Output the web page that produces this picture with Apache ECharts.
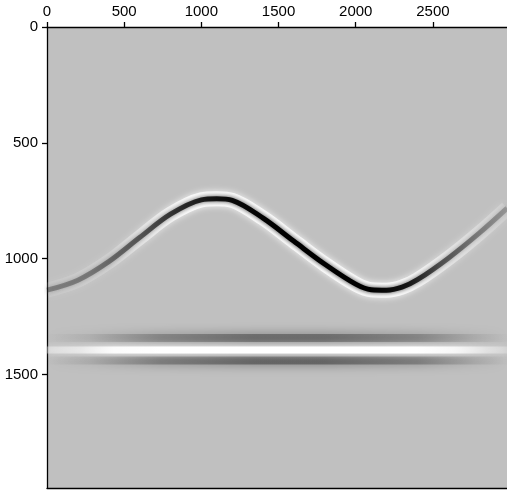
<!DOCTYPE html>
<html>
<head>
<meta charset="utf-8">
<script src="https://cdn.jsdelivr.net/npm/echarts@6/dist/echarts.min.js"></script>
<style>
  html, body { margin: 0; padding: 0; background: #fff; }
  #main { width: 507px; height: 490px; }
</style>
</head>
<body>
<div id="main"></div>
<script>
// axis ticks
var xTicks = [0, 500, 1000, 1500, 2000, 2500];
var yTicks = [0, 500, 1000, 1500];

// curved reflector (offset, depth)
var curveX     = [0,    200,  400,  600, 800, 1000, 1100, 1200, 1400, 1600, 1800, 2000, 2100, 2200, 2300, 2400, 2600, 2800, 2981];
var curveDepth = [1136, 1093, 1013, 909, 808, 746,  741,  748,  825,  925,  1024, 1110, 1134, 1136, 1123, 1091, 998,  890,  782];

// flat event: white centre with dark side lobes
var flatX = [0, 2980];
var flatCentre = 1394;
var flatUpper = 1343;
var flatLower = 1440;

var myChart = echarts.init(document.getElementById('main'));

function pairs(xs, ys) {
  return xs.map(function (x, i) { return [x, ys[i]]; });
}
function flat(d) {
  return flatX.map(function (x) { return [x, d]; });
}
// horizontal alpha ramp for a colour
function ramp(rgb, stops) {
  return new echarts.graphic.LinearGradient(0, 0, 1, 0, stops.map(function (s) {
    return { offset: s[0], color: 'rgba(' + rgb + ',' + s[1] + ')' };
  }));
}
function plain(v) { return String(v); }

var curveData = pairs(curveX, curveDepth);

var lineBase = {
  type: 'line',
  xAxisIndex: 0,
  yAxisIndex: 0,
  showSymbol: false,
  silent: true,
  animation: false
};

var option = {
  animation: false,
  grid: {
    left: 47, top: 27, right: 0, bottom: 2,
    show: true, backgroundColor: '#c0c0c0', borderWidth: 0
  },
  xAxis: [
    {
      type: 'value', position: 'top', min: 0, max: 2980,
      axisLine: { lineStyle: { color: '#000', width: 1.3 } },
      axisTick: { show: true, length: 5, customValues: xTicks, lineStyle: { color: '#000', width: 1.3 } },
      axisLabel: { customValues: xTicks, formatter: plain, color: '#000', fontSize: 15, fontFamily: 'Liberation Sans', margin: 8 },
      splitLine: { show: false }
    },
    {
      type: 'value', position: 'bottom', min: 0, max: 2980,
      axisLine: { lineStyle: { color: '#000', width: 1.3 } },
      axisTick: { show: false }, axisLabel: { show: false }, splitLine: { show: false }
    }
  ],
  yAxis: {
    type: 'value', inverse: true, min: 0, max: 1990,
    axisLine: { lineStyle: { color: '#000', width: 1.3 } },
    axisTick: { show: true, length: 5, customValues: yTicks, lineStyle: { color: '#000', width: 1.3 } },
    axisLabel: { customValues: yTicks, formatter: plain, color: '#000', fontSize: 15, fontFamily: 'Liberation Sans', margin: 9 },
    splitLine: { show: false }
  },
  series: [
    // flat event side lobes
    Object.assign({}, lineBase, {
      data: flat(flatUpper),
      lineStyle: {
        width: 8, shadowBlur: 11, shadowColor: 'rgba(0,0,0,0.8)',
        color: ramp('50,50,50', [[0, 0], [0.1, 0.08], [0.25, 0.3], [0.45, 0.45], [0.6, 0.45], [0.8, 0.3], [0.92, 0.1], [1, 0]])
      }
    }),
    Object.assign({}, lineBase, {
      data: flat(flatLower),
      lineStyle: {
        width: 8, shadowBlur: 11, shadowColor: 'rgba(0,0,0,0.8)',
        color: ramp('50,50,50', [[0, 0], [0.1, 0.1], [0.25, 0.35], [0.45, 0.5], [0.6, 0.5], [0.8, 0.35], [0.92, 0.12], [1, 0]])
      }
    }),
    // flat event white centre
    Object.assign({}, lineBase, {
      data: flat(flatCentre),
      lineStyle: {
        width: 7, shadowBlur: 7, shadowColor: 'rgba(255,255,255,0.9)',
        color: ramp('255,255,255', [[0, 0.3], [0.08, 0.5], [0.15, 0.9], [0.25, 1], [0.8, 1], [0.88, 0.8], [0.95, 0.4], [1, 0.2]])
      }
    }),
    // reflector white flanks
    Object.assign({}, lineBase, {
      data: curveData, smooth: 0.35,
      lineStyle: {
        width: 15, shadowBlur: 6, shadowColor: 'rgba(255,255,255,0.9)',
        color: ramp('255,255,255', [[0, 0.08], [0.15, 0.2], [0.25, 0.6], [0.32, 0.95], [0.75, 0.95], [0.85, 0.5], [1, 0.12]])
      }
    }),
    // reflector dark core
    Object.assign({}, lineBase, {
      data: curveData, smooth: 0.35,
      lineStyle: {
        width: 5, shadowBlur: 5, shadowColor: 'rgba(0,0,0,0.8)',
        color: ramp('0,0,0', [[0, 0.28], [0.1, 0.33], [0.2, 0.5], [0.3, 0.75], [0.4, 0.92], [0.5, 1], [0.7, 1], [0.78, 0.85], [0.85, 0.55], [0.93, 0.35], [1, 0.2]])
      }
    })
  ]
};

myChart.setOption(option);
</script>
</body>
</html>
